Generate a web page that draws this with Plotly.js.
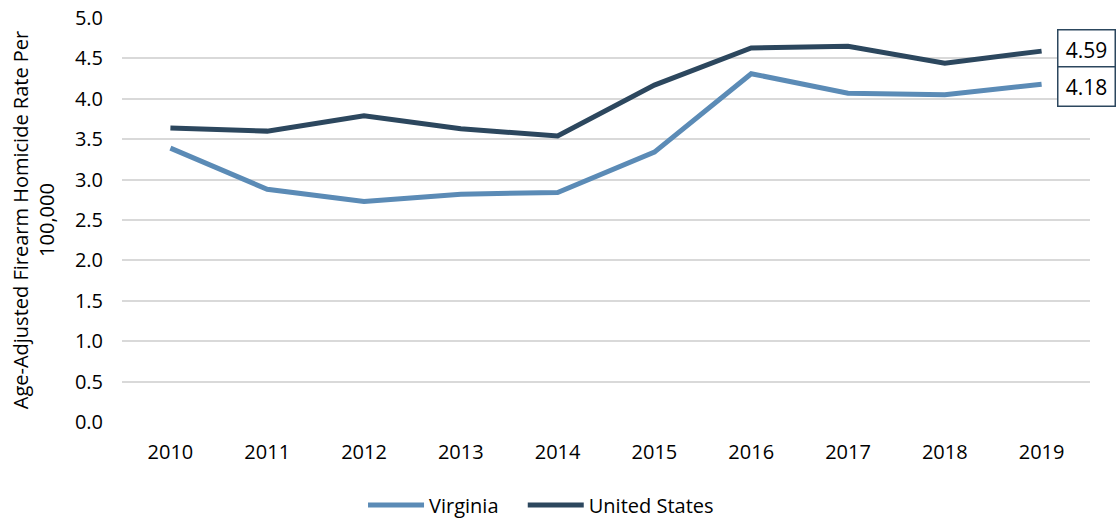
<!DOCTYPE html>
<html>
<head>
<meta charset="utf-8">
<script src="https://cdn.plot.ly/plotly-3.0.1.min.js"></script>
<style>html,body{margin:0;padding:0;background:#fff;}#chart{width:1117px;height:519px;}</style>
</head>
<body>
<div id="chart"></div>
<script>
const years = ['2010','2011','2012','2013','2014','2015','2016','2017','2018','2019'];
const virginia = [3.39, 2.88, 2.73, 2.82, 2.84, 3.34, 4.31, 4.07, 4.05, 4.18];
const unitedStates = [3.64, 3.60, 3.79, 3.63, 3.54, 4.17, 4.63, 4.65, 4.44, 4.59];
const yTicks = [0, 0.5, 1, 1.5, 2, 2.5, 3, 3.5, 4, 4.5, 5];

const font = '"Open Sans", "Noto Sans", sans-serif';
const vaColor = '#5b8bb6';
const usColor = '#2c475e';

const traces = [
  {x: years, y: virginia, name: 'Virginia', type: 'scatter', mode: 'lines',
   line: {color: vaColor, width: 5}, legend: 'legend'},
  {x: years, y: unitedStates, name: 'United States', type: 'scatter', mode: 'lines',
   line: {color: usColor, width: 5}, legend: 'legend2'}
];

const last = years.length - 1;
function endLabel(val, shift) {
  return {xref: 'x', yref: 'y', x: last, y: val, text: val.toFixed(2),
    showarrow: false, xanchor: 'left', yanchor: 'middle', xshift: 15, yshift: shift,
    width: 46, align: 'center',
    bordercolor: usColor, borderwidth: 1.5, borderpad: 5, bgcolor: '#ffffff',
    font: {family: font, size: 21, color: '#000000'}};
}

function legendAt(xPos) {
  return {orientation: 'h', x: xPos, xanchor: 'left', xref: 'container',
          y: 0.027, yanchor: 'middle', yref: 'container', itemwidth: 56,
          font: {family: font, size: 20}, bgcolor: 'rgba(0,0,0,0)'};
}

const layout = {
  width: 1117, height: 519,
  margin: {l: 122, r: 27, t: 18, b: 97},
  paper_bgcolor: '#fff', plot_bgcolor: '#fff',
  font: {family: font, size: 20, color: '#000'},
  showlegend: true,
  legend: legendAt(0.325),
  legend2: legendAt(0.468),
  xaxis: {type: 'category', range: [-0.5, 9.5], showgrid: false, zeroline: false,
          showline: false, ticks: 'outside', ticklen: 12, tickcolor: 'rgba(0,0,0,0)',
          tickfont: {family: font, size: 20}},
  yaxis: {range: [0, 5], tickvals: yTicks, tickformat: '.1f', showgrid: true,
          gridcolor: '#d9d9d9', gridwidth: 2, zeroline: false, showline: false,
          ticks: 'outside', ticklen: 14, tickcolor: 'rgba(0,0,0,0)',
          tickfont: {family: font, size: 20},
          title: {text: 'Age-Adjusted Firearm Homicide Rate Per<br>100,000',
                  font: {family: font, size: 20}, standoff: 14}},
  annotations: [
    endLabel(unitedStates[last], 1.5),
    endLabel(virginia[last], -2)
  ]
};

Plotly.newPlot('chart', traces, layout, {displayModeBar: false, staticPlot: true});
</script>
</body>
</html>
